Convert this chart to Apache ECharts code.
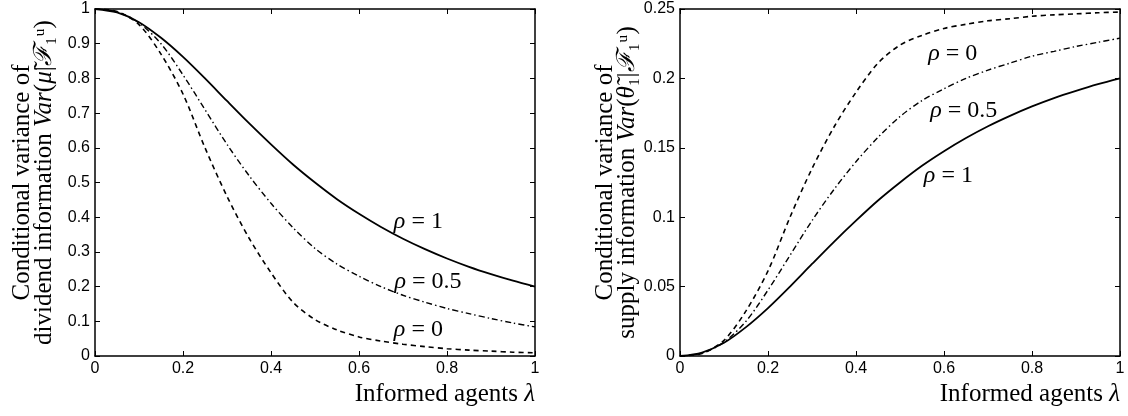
<!DOCTYPE html>
<html>
<head>
<meta charset="utf-8">
<script src="https://cdn.jsdelivr.net/npm/echarts@6/dist/echarts.min.js"></script>
<style>
  html, body { margin: 0; padding: 0; background: #fff; }
  #chart { width: 1128px; height: 416px; }
</style>
</head>
<body>
<div id="chart"></div>
<script>
// informed agents lambda
const lambdas = [0, 0.05, 0.1, 0.15, 0.2, 0.25, 0.3, 0.35, 0.4, 0.45, 0.5,
  0.55, 0.6, 0.65, 0.7, 0.75, 0.8, 0.85, 0.9, 0.95, 1];

// left panel: dividend information variance
const divRho1 = [1, 0.990, 0.962, 0.917, 0.862, 0.8, 0.735, 0.671, 0.610, 0.552, 0.5,
  0.452, 0.410, 0.372, 0.338, 0.308, 0.281, 0.257, 0.236, 0.217, 0.2];
const divRho05 = [1, 0.992, 0.96, 0.9, 0.81, 0.71, 0.61, 0.52, 0.44, 0.37, 0.31,
  0.265, 0.23, 0.2, 0.175, 0.155, 0.137, 0.122, 0.108, 0.095, 0.084];
const divRho0 = [1, 0.993, 0.955, 0.87, 0.755, 0.6, 0.46, 0.34, 0.24, 0.155, 0.105,
  0.075, 0.055, 0.043, 0.034, 0.027, 0.021, 0.017, 0.014, 0.011, 0.009];

// right panel: supply information variance
const supRho1 = [0, 0.0025, 0.0095, 0.0208, 0.0345, 0.05, 0.0663, 0.0823, 0.0975, 0.112, 0.125,
  0.137, 0.1475, 0.157, 0.1655, 0.173, 0.1798, 0.1858, 0.191, 0.1958, 0.2];
const supRho05 = [0, 0.002, 0.01, 0.025, 0.0475, 0.0725, 0.0975, 0.12, 0.14, 0.1575, 0.1725,
  0.184, 0.1925, 0.2, 0.206, 0.211, 0.216, 0.2195, 0.223, 0.226, 0.229];
const supRho0 = [0, 0.0018, 0.0113, 0.0325, 0.0613, 0.1, 0.135, 0.165, 0.19, 0.211, 0.224,
  0.231, 0.236, 0.239, 0.2415, 0.243, 0.2448, 0.2458, 0.2465, 0.2473, 0.2478];

// curve labels: [lambda, value, text]
const divLabels = [[0.735, 0.386, '1'], [0.757, 0.213, '0.5'], [0.735, 0.075, '0']];
const supLabels = [[0.62, 0.218, '0'], [0.645, 0.177, '0.5'], [0.61, 0.13, '1']];

const serif = "'Liberation Serif', 'DejaVu Serif', serif";
const sans = "'Liberation Sans', Arial, sans-serif";

const zip = (xs, ys) => xs.map((x, i) => [x, ys[i]]);

function xAx(grid, bottom) {
  return {
    type: 'value', gridIndex: grid, min: 0, max: 1, interval: 0.2,
    position: bottom ? 'bottom' : 'top',
    name: bottom ? 'Informed agents {i|λ}' : '',
    nameLocation: 'end', nameGap: 0,
    nameTextStyle: {
      fontFamily: serif, fontSize: 25, color: '#000',
      align: 'right', verticalAlign: 'top', padding: [26, 0, 0, 0],
      rich: { i: { fontFamily: serif, fontStyle: 'italic', fontSize: 25, color: '#000' } }
    },
    splitLine: { show: false },
    axisLine: { show: true, onZero: false, lineStyle: { color: '#000', width: 1.5 } },
    axisTick: { show: true, inside: true, length: 5, lineStyle: { color: '#000', width: 1 } },
    axisLabel: { show: bottom, color: '#000', fontFamily: sans, fontSize: 16, margin: 5,
      formatter: v => String(+v.toFixed(2)) }
  };
}

function yAx(grid, left, max, interval, name) {
  return {
    type: 'value', gridIndex: grid, min: 0, max: max, interval: interval,
    position: left ? 'left' : 'right',
    name: left ? name : '',
    nameLocation: 'middle', nameRotate: 90, nameGap: 40,
    nameTextStyle: {
      fontFamily: serif, fontSize: 25, color: '#000', lineHeight: 22,
      rich: { i: { fontFamily: serif, fontStyle: 'italic', fontSize: 25, lineHeight: 22, color: '#000' } }
    },
    splitLine: { show: false },
    axisLine: { show: true, onZero: false, lineStyle: { color: '#000', width: 1.5 } },
    axisTick: { show: true, inside: true, length: 5, lineStyle: { color: '#000', width: 1 } },
    axisLabel: { show: left, color: '#000', fontFamily: sans, fontSize: 16, margin: 5,
      formatter: v => String(+v.toFixed(2)) }
  };
}

function curve(x, y, data, dash, width) {
  return {
    type: 'line', xAxisIndex: x, yAxisIndex: y, data: data,
    smooth: 0.3, showSymbol: false, symbol: 'none',
    silent: true,
    lineStyle: { color: '#000', width: width, type: dash }
  };
}

function labels(x, y, rows) {
  return {
    type: 'scatter', xAxisIndex: x, yAxisIndex: y, symbolSize: 0, silent: true,
    itemStyle: { color: '#000', opacity: 1 },
    data: rows.map(r => ({ value: [r[0], r[1]], name: r[2] })),
    label: {
      show: true, position: [0, 0], align: 'center', verticalAlign: 'middle',
      color: '#000', textBorderWidth: 0, textBorderColor: 'transparent',
      fontFamily: serif, fontSize: 24,
      formatter: p => '{i|ρ} {n|= ' + p.name + '}',
      rich: {
        i: { fontFamily: serif, fontStyle: 'italic', fontSize: 24, color: '#000' },
        n: { fontFamily: serif, fontSize: 24, color: '#000' }
      }
    }
  };
}

const dashed = [5, 4];
const dashDot = [6, 3, 1.5, 3];

const chart = echarts.init(document.getElementById('chart'));
chart.setOption({
  animation: false,
  grid: [
    { left: 95, right: 593, top: 9, bottom: 60 },
    { left: 680, right: 8, top: 9, bottom: 60 }
  ],
  xAxis: [xAx(0, true), xAx(0, false), xAx(1, true), xAx(1, false)],
  yAxis: [
    yAx(0, true, 1, 0.1, 'Conditional variance of\ndividend information {i|Var}({i|μ̃}|{i|ℱ}₁ᵘ)'),
    yAx(0, false, 1, 0.1, ''),
    yAx(1, true, 0.25, 0.05, 'Conditional variance of\nsupply information {i|Var}({i|θ̃}₁|{i|ℱ}₁ᵘ)'),
    yAx(1, false, 0.25, 0.05, '')
  ],
  series: [
    curve(0, 0, zip(lambdas, divRho1), 'solid', 1.8),
    curve(0, 0, zip(lambdas, divRho05), dashDot, 1.4),
    curve(0, 0, zip(lambdas, divRho0), dashed, 1.6),
    labels(0, 0, divLabels),
    curve(2, 2, zip(lambdas, supRho1), 'solid', 1.8),
    curve(2, 2, zip(lambdas, supRho05), dashDot, 1.4),
    curve(2, 2, zip(lambdas, supRho0), dashed, 1.6),
    labels(2, 2, supLabels)
  ]
});
</script>
</body>
</html>
